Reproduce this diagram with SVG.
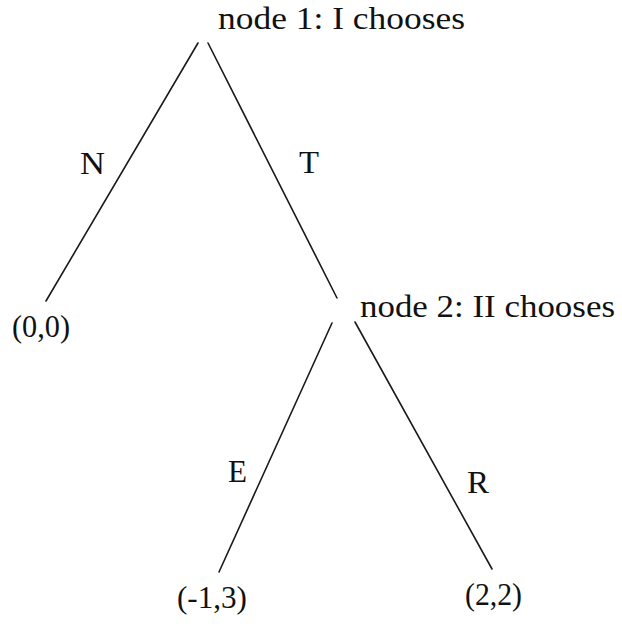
<svg xmlns="http://www.w3.org/2000/svg" width="622" height="624" viewBox="0 0 622 624">
<style>
.t{font-family:"Liberation Serif","Times New Roman",serif;font-size:31px;fill:#111}
.e{stroke:#1a1a1a;stroke-width:1.6;fill:none;stroke-linecap:round}
</style>
<rect width="622" height="624" fill="#fff"/>
<g id="connectors">
<line class="e" x1="198" y1="43" x2="46" y2="301"/>
<line class="e" x1="208" y1="43" x2="337" y2="298"/>
<line class="e" x1="332" y1="323" x2="219" y2="572"/>
<line class="e" x1="355" y1="322" x2="492" y2="569"/>
<text class="t" x="80" y="174" textLength="25" lengthAdjust="spacingAndGlyphs">N</text>
<text class="t" x="299" y="173" textLength="20" lengthAdjust="spacingAndGlyphs">T</text>
<text class="t" x="228" y="482" textLength="19" lengthAdjust="spacingAndGlyphs">E</text>
<text class="t" x="467" y="493" textLength="22" lengthAdjust="spacingAndGlyphs">R</text>
</g>
<g id="node1"><text class="t" x="218" y="29" textLength="247" lengthAdjust="spacingAndGlyphs">node 1: I chooses</text></g>
<g id="node2"><text class="t" x="360" y="317" textLength="255" lengthAdjust="spacingAndGlyphs">node 2: II chooses</text></g>
<g id="leaf00"><text class="t" x="12" y="337" textLength="58" lengthAdjust="spacingAndGlyphs">(0,0)</text></g>
<g id="leafm13"><text class="t" x="177" y="608" textLength="70" lengthAdjust="spacingAndGlyphs">(-1,3)</text></g>
<g id="leaf22"><text class="t" x="465" y="605" textLength="57" lengthAdjust="spacingAndGlyphs">(2,2)</text></g>
</svg>
